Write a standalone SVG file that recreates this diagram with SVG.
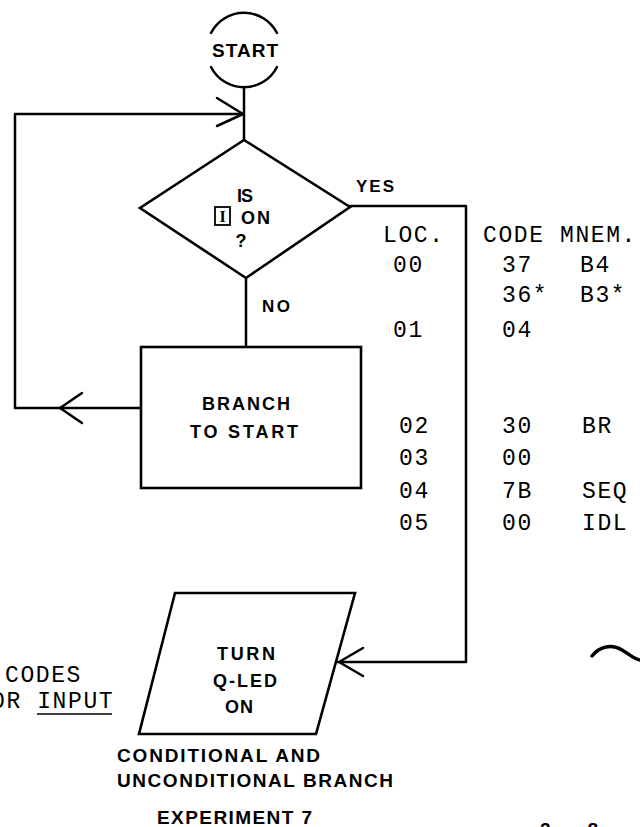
<svg xmlns="http://www.w3.org/2000/svg" width="640" height="827" viewBox="0 0 640 827">
<style>
.ln{fill:none;stroke:#000;stroke-width:2.5;stroke-linecap:round;stroke-linejoin:round}
.sh{fill:#fff;stroke:#000;stroke-width:2.6;stroke-linejoin:miter}
.lb{font-family:"Liberation Sans",Arial,sans-serif;font-size:18px;font-weight:bold;fill:#000;text-anchor:middle}
.cap{font-family:"Liberation Sans",Arial,sans-serif;font-size:19px;font-weight:bold;fill:#000}
.tt{font-family:"Liberation Mono","Courier New",monospace;font-size:23px;letter-spacing:1.6px;fill:#000}
</style>
<rect width="640" height="827" fill="#fff"/>
<g id="connectors">
  <path class="ln" d="M244,87 L244,140"/>
  <path class="ln" d="M246,278 L246,347"/>
  <path class="ln" d="M141,408 L15,408 L15,114 L243,114"/>
  <path class="ln" d="M217,98 L243,114 L217,126"/>
  <path class="ln" d="M82,393 L60,408 L82,423"/>
  <path class="ln" d="M350,206 L466,206 L466,662 L338,662"/>
  <path class="ln" d="M363,648 L339,662 L363,676"/>
</g>
<g id="start">
  <path class="ln" d="M211,33 A37,37 0 0 1 277,33"/>
  <path class="ln" d="M211,67 A37,37 0 0 0 277,67"/>
  <text x="212" y="57" class="lb" style="font-size:19px;text-anchor:start" textLength="66" lengthAdjust="spacing">START</text>
</g>
<g id="decision">
  <polygon class="sh" points="244,140 350,207 246,278 140,208"/>
  <text x="237" y="202" class="lb" style="text-anchor:start" textLength="16" lengthAdjust="spacing">IS</text>
  <rect x="215" y="207" width="15" height="18" fill="none" stroke="#000" stroke-width="1.8"/>
  <text x="222.5" y="222" style="font-family:'Liberation Serif',serif;font-size:16px;font-weight:bold;text-anchor:middle">I</text>
  <text x="241" y="224" class="lb" style="text-anchor:start" textLength="29" lengthAdjust="spacing">ON</text>
  <text x="241" y="247" class="lb">?</text>
  <text x="356" y="192" class="lb" style="text-anchor:start;font-size:17px" textLength="38" lengthAdjust="spacing">YES</text>
  <text x="262" y="312" class="lb" style="text-anchor:start;font-size:17px" textLength="28" lengthAdjust="spacing">NO</text>
</g>
<g id="branch">
  <rect class="sh" x="141" y="347" width="220" height="141"/>
  <text x="202" y="410" class="lb" style="text-anchor:start" textLength="88" lengthAdjust="spacing">BRANCH</text>
  <text x="190" y="438" class="lb" style="text-anchor:start" textLength="108" lengthAdjust="spacing">TO START</text>
</g>
<g id="output">
  <polygon class="sh" points="175,593 355,593 316,734 139,734"/>
  <text x="217" y="660" class="lb" style="text-anchor:start" textLength="58" lengthAdjust="spacing">TURN</text>
  <text x="213" y="687" class="lb" style="text-anchor:start" textLength="64" lengthAdjust="spacing">Q-LED</text>
  <text x="225" y="713" class="lb" style="text-anchor:start" textLength="28" lengthAdjust="spacing">ON</text>
</g>
<g id="table">
  <text class="tt" x="383" y="242">LOC.</text>
  <text class="tt" x="483" y="242">CODE MNEM.</text>
  <text class="tt" x="393" y="272">00</text><text class="tt" x="502" y="272">37</text><text class="tt" x="580" y="272">B4</text>
  <text class="tt" x="502" y="302">36*</text><text class="tt" x="580" y="302">B3*</text>
  <text class="tt" x="393" y="337">01</text><text class="tt" x="502" y="337">04</text>
  <text class="tt" x="399" y="433">02</text><text class="tt" x="502" y="433">30</text><text class="tt" x="582" y="433">BR</text>
  <text class="tt" x="399" y="465">03</text><text class="tt" x="502" y="465">00</text>
  <text class="tt" x="399" y="498">04</text><text class="tt" x="502" y="498">7B</text><text class="tt" x="582" y="498">SEQ</text>
  <text class="tt" x="399" y="530">05</text><text class="tt" x="502" y="530">00</text><text class="tt" x="582" y="530">IDL</text>
</g>
<g id="notes">
  <text class="tt" x="5" y="682">CODES</text>
  <text class="tt" x="-9" y="708">OR INPUT</text>
  <line x1="37" y1="714" x2="112" y2="714" stroke="#000" stroke-width="1.5"/>
  <path d="M592,656 C600,646 612,644 622,650 S634,659 640,660" fill="none" stroke="#000" stroke-width="3.5" stroke-linecap="round"/>
  <text class="cap" x="117" y="762" textLength="203" lengthAdjust="spacing">CONDITIONAL AND</text>
  <text class="cap" x="117" y="787" textLength="276" lengthAdjust="spacing">UNCONDITIONAL BRANCH</text>
  <text class="cap" x="157" y="824" textLength="155" lengthAdjust="spacing">EXPERIMENT 7</text>
  <text class="cap" x="540" y="836" textLength="58" lengthAdjust="spacing">2 - 8</text>
</g>
</svg>
